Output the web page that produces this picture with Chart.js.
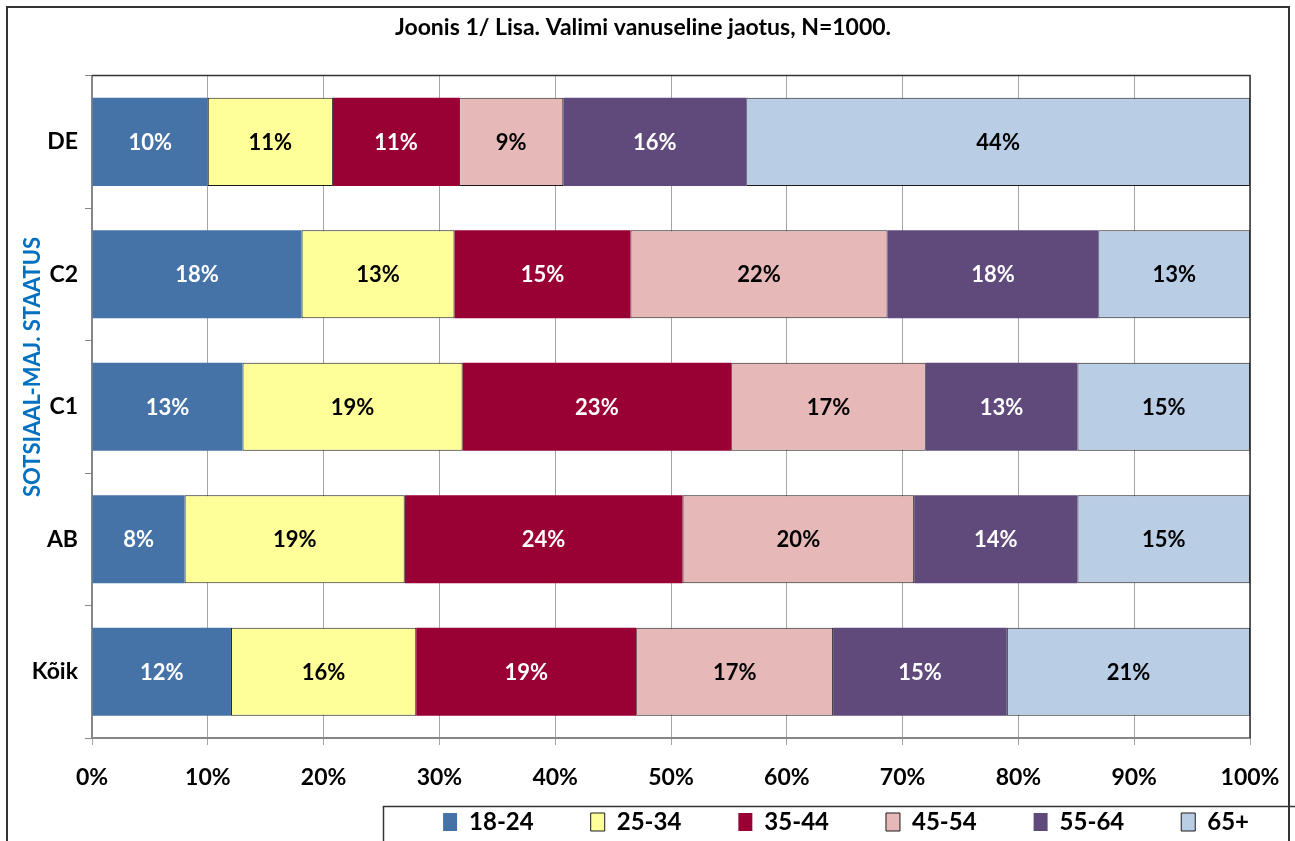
<!DOCTYPE html>
<html>
<head>
<meta charset="utf-8">
<script src="https://cdn.jsdelivr.net/npm/chart.js@4/dist/chart.umd.min.js"></script>
<style>
  body { margin: 0; background: #fff; }
  canvas { display: block; }
</style>
</head>
<body>
<canvas id="ageChart" width="1295" height="841"></canvas>
<script>
const categories = ['DE', 'C2', 'C1', 'AB', 'Kõik']
const seriesNames = ['18-24', '25-34', '35-44', '45-54', '55-64', '65+']
const age1824 = [10.0, 18.1, 13.0, 8.0, 12.0]
const age2534 = [10.8, 13.2, 19.0, 19.0, 16.0]
const age3544 = [10.9, 15.2, 23.2, 24.0, 19.0]
const age4554 = [9.0, 22.2, 16.8, 20.0, 17.0]
const age5564 = [15.8, 18.2, 13.1, 14.1, 15.0]
const age65 = [43.5, 13.1, 14.9, 14.9, 21.0]
const xTicks = [0, 10, 20, 30, 40, 50, 60, 70, 80, 90, 100]

const seriesValues = [age1824, age2534, age3544, age4554, age5564, age65]
const colors = ['#4572A7', '#FFFF99', '#990033', '#E6B9B8', '#604A7B', '#B9CDE5']
const borders = [0, 1, 0, 1, 0, 1]
const labelColors = ['#fff', '#000', '#fff', '#000', '#fff', '#000']
const fontFamily = 'Lato, "Open Sans", sans-serif'

const frame = {
    id: 'frame',
    afterLayout(chart) {
        // nudge legend and title to where Excel put them
        const lg = chart.legend
        lg.left += 56
        lg.right += 56
        lg.top = 753
        lg.bottom = chart.height
        lg.height = lg.bottom - lg.top
        const t = chart.titleBlock
        t.left += 18
        t.right += 18
    },
    beforeDraw(chart) {
        const ctx = chart.ctx
        ctx.save()
        ctx.fillStyle = '#fff'
        ctx.fillRect(0, 0, chart.width, chart.height)
        ctx.strokeStyle = '#333'
        ctx.lineWidth = 2
        ctx.strokeRect(7, 7, 1282, 860)
        ctx.restore()
    },
    afterDatasetsDraw(chart) {
        const ctx = chart.ctx
        const a = chart.chartArea
        ctx.save()
        // value labels inside segments
        ctx.font = 'bold 22px ' + fontFamily
        ctx.textAlign = 'center'
        ctx.textBaseline = 'middle'
        chart.data.datasets.forEach((ds, i) => {
            chart.getDatasetMeta(i).data.forEach((bar, j) => {
                const p = bar.getProps(['x', 'y', 'base'], true)
                ctx.fillStyle = labelColors[i]
                ctx.fillText(Math.round(ds.data[j]) + '%', (p.x + p.base) / 2, p.y + 1)
            })
        })
        // plot area top/right edges
        ctx.strokeStyle = '#333'
        ctx.lineWidth = 1.5
        ctx.beginPath()
        ctx.moveTo(a.left, a.top)
        ctx.lineTo(a.right, a.top)
        ctx.lineTo(a.right, a.bottom)
        ctx.stroke()
        // y axis title
        ctx.translate(33, 367)
        ctx.rotate(-Math.PI / 2)
        ctx.font = 'bold 22px ' + fontFamily
        ctx.fillStyle = '#0070C0'
        ctx.fillText('SOTSIAAL-MAJ. STAATUS', 0, 0)
        ctx.restore()
    },
    afterDraw(chart) {
        const ctx = chart.ctx
        ctx.save()
        ctx.strokeStyle = '#333'
        ctx.lineWidth = 1.5
        ctx.strokeRect(383.5, 806.5, 940, 80)
        ctx.restore()
    }
}

new Chart(document.getElementById('ageChart').getContext('2d'), {
    type: 'bar',
    plugins: [frame],
    data: {
        labels: categories,
        datasets: seriesNames.map((name, i) => ({
            label: name,
            data: seriesValues[i],
            backgroundColor: colors[i],
            borderColor: '#1a1a1a',
            borderWidth: borders[i],
            borderSkipped: false,
            barPercentage: 0.665,
            categoryPercentage: 1
        }))
    },
    options: {
        indexAxis: 'y',
        responsive: false,
        animation: false,
        layout: {
            padding: { top: 0, left: 0, right: 45, bottom: 0 }
        },
        scales: {
            x: {
                type: 'linear',
                stacked: true,
                min: 0,
                max: 100,
                afterBuildTicks: (scale) => {
                    scale.ticks = xTicks.map(v => ({ value: v }))
                },
                afterFit: (scale) => {
                    scale.height = 63
                    scale.paddingLeft = 0
                    scale.paddingRight = 0
                },
                ticks: {
                    callback: (v) => v + '%',
                    color: '#000',
                    font: { family: fontFamily, size: 23, weight: 'bold' },
                    padding: 19,
                    maxRotation: 0
                },
                grid: {
                    color: '#a6a6a6',
                    lineWidth: 1,
                    tickLength: 7
                },
                border: { color: '#868686', width: 2 }
            },
            y: {
                type: 'category',
                stacked: true,
                afterFit: (scale) => {
                    scale.width = 92
                },
                ticks: {
                    color: '#000',
                    font: { family: fontFamily, size: 23, weight: 'bold' },
                    padding: 7
                },
                grid: {
                    offset: true,
                    drawOnChartArea: false,
                    color: '#868686',
                    tickLength: 7
                },
                border: { color: '#868686', width: 2 }
            }
        },
        plugins: {
            title: {
                display: true,
                text: 'Joonis 1/ Lisa. Valimi vanuseline jaotus, N=1000.',
                color: '#000',
                font: { family: fontFamily, size: 23, weight: 'bold' },
                padding: { top: 14, bottom: 34 }
            },
            legend: {
                position: 'bottom',
                align: 'end',
                maxHeight: 40,
                labels: {
                    color: '#000',
                    font: { family: fontFamily, size: 24, weight: 'bold' },
                    boxWidth: 14,
                    boxHeight: 18,
                    padding: 57
                }
            },
            tooltip: { enabled: false }
        }
    }
})
</script>
</body>
</html>
